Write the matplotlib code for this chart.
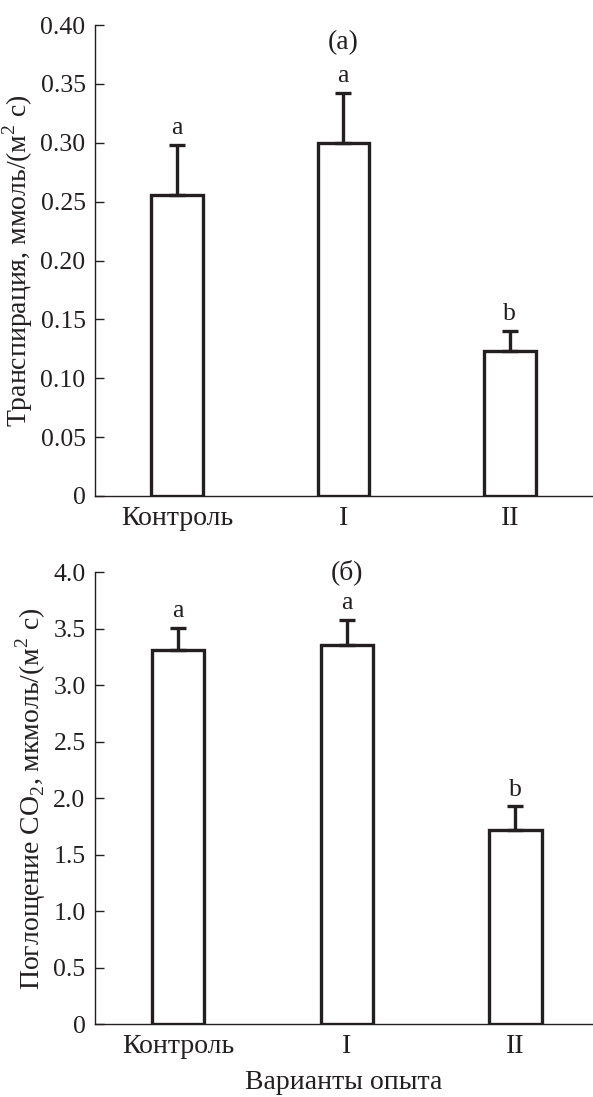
import matplotlib
matplotlib.use("Agg")
import matplotlib.pyplot as plt
import numpy as np

plt.rcParams['font.family'] = ['Liberation Serif', 'DejaVu Serif']
plt.rcParams['mathtext.fontset'] = 'custom'
plt.rcParams['mathtext.rm'] = 'Liberation Serif'

categories = ["Контроль", "I", "II"]
trans_values = [0.256, 0.300, 0.123]
trans_err = [0.042, 0.042, 0.017]
trans_letters = ["a", "a", "b"]
co2_values = [3.31, 3.36, 1.72]
co2_err = [0.20, 0.22, 0.21]
co2_letters = ["a", "a", "b"]
trans_ticks = [0, 0.05, 0.10, 0.15, 0.20, 0.25, 0.30, 0.35, 0.40]
trans_ticklabels = ["0", "0.05", "0.10", "0.15", "0.20", "0.25", "0.30", "0.35", "0.40"]
co2_ticks = [0, 0.5, 1.0, 1.5, 2.0, 2.5, 3.0, 3.5, 4.0]
co2_ticklabels = ["0", "0.5", "1.0", "1.5", "2.0", "2.5", "3.0", "3.5", "4.0"]

W, H = 593, 1097
fig = plt.figure(figsize=(W / 100, H / 100), dpi=100)
col = "#231f20"
fs_tick = 18.5
fs_text = 20
fs_letter = 18.5

def px_axes(x0, y_top, x1, y_bot):
    return fig.add_axes([x0 / W, 1 - y_bot / H, (x1 - x0) / W, (y_bot - y_top) / H])

def panel(ax, vals, errs, letters, ticks, ticklabels, ylim, xlim, ylabel, title, title_y, letter_off):
    x = np.arange(len(categories))
    ax.bar(x, vals, width=0.31, facecolor="white", edgecolor=col, linewidth=2.4, zorder=2)
    ax.errorbar(x, vals, yerr=[np.zeros(len(errs)), errs], fmt="none", ecolor=col,
                elinewidth=2.4, capsize=5.5, capthick=2.4, zorder=3)
    for xi, v, e, l in zip(x, vals, errs, letters):
        ax.text(xi, v + e + letter_off, l, ha="center", va="bottom", fontsize=fs_letter, color=col)
    ax.set_xlim(*xlim)
    ax.set_ylim(*ylim)
    ax.set_yticks(ticks)
    ax.set_yticklabels(ticklabels, fontsize=fs_tick, color=col)
    ax.set_xticks(x)
    ax.set_xticklabels(categories, fontsize=fs_text, color=col)
    ax.tick_params(axis="x", length=0, pad=7)
    ax.tick_params(axis="y", direction="in", length=6.5, width=1.0, color=col, pad=7)
    for s in ["top", "right"]:
        ax.spines[s].set_visible(False)
    for s in ["left", "bottom"]:
        ax.spines[s].set_linewidth(1.0)
        ax.spines[s].set_color(col)
    ax.set_ylabel(ylabel, fontsize=fs_text, color=col, labelpad=4)
    ax.text(1.0, title_y, title, ha="center", va="center", fontsize=fs_text, color=col,
            clip_on=False)

ax1 = px_axes(95.3, 25, 593, 496)
panel(ax1, trans_values, trans_err, trans_letters, trans_ticks, trans_ticklabels,
      (0, 0.40), (-0.49, 2.5), "Транспирация, ммоль/(м$^2$ с)", "(а)", 0.385, 0.005)

ax2 = px_axes(95.3, 572.3, 593, 1024.3)
panel(ax2, co2_values, co2_err, co2_letters, co2_ticks, co2_ticklabels,
      (0, 4.0), (-0.49, 2.46), "Поглощение CO$_2$, мкмоль/(м$^2$ с)", "(б)", 4.0, 0.05)
ax2.set_xlabel("Варианты опыта", fontsize=fs_text, color=col, labelpad=8)

fig.savefig("out.png", dpi=100)
